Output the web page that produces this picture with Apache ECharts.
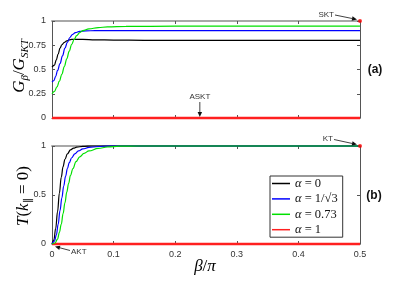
<!DOCTYPE html>
<html><head><meta charset="utf-8">
<script src="https://cdn.jsdelivr.net/npm/echarts@6/dist/echarts.min.js"></script>
<style>html,body{margin:0;padding:0;background:#fff}#c{width:397px;height:284px}</style>
</head><body><div id="c"></div>
<script>
// ---- data ----
const seriesNames = ['α = 0', 'α = 1/√3', 'α = 0.73', 'α = 1'];
const seriesColors = ['#000000', '#0000ff', '#00e000', '#ff2020'];
// panel (a): G_beta / G_SKT  vs beta/pi
const gAlpha0 = [[0,0.525],[0.004,0.545],[0.007,0.60],[0.010,0.66],[0.013,0.72],[0.016,0.755],[0.020,0.78],[0.024,0.795],[0.028,0.805],[0.032,0.81],[0.04,0.811],[0.05,0.81],[0.07,0.806],[0.1,0.803],[0.15,0.801],[0.2,0.80],[0.5,0.80]];
const gAlphaInvSqrt3 = [[0,0.37],[0.003,0.385],[0.006,0.43],[0.009,0.49],[0.013,0.56],[0.017,0.64],[0.021,0.72],[0.025,0.78],[0.029,0.83],[0.033,0.86],[0.038,0.88],[0.045,0.893],[0.055,0.899],[0.07,0.90],[0.5,0.90]];
const gAlpha073 = [[0,0.25],[0.004,0.275],[0.008,0.32],[0.012,0.38],[0.016,0.45],[0.020,0.53],[0.024,0.61],[0.028,0.69],[0.032,0.76],[0.036,0.81],[0.040,0.85],[0.045,0.88],[0.05,0.90],[0.06,0.918],[0.075,0.932],[0.09,0.939],[0.12,0.944],[0.2,0.947],[0.5,0.948]];
const gAlpha1 = [[0,0],[0.1,0],[0.2,0],[0.3,0],[0.4,0],[0.5,0]];
// panel (b): T(k_par = 0) vs beta/pi
const tAlpha0 = [[0,0],[0.003,0.04],[0.006,0.16],[0.009,0.33],[0.012,0.52],[0.015,0.68],[0.018,0.79],[0.021,0.865],[0.025,0.92],[0.03,0.96],[0.035,0.978],[0.04,0.988],[0.05,0.996],[0.065,1],[0.5,1]];
const tAlphaInvSqrt3 = [[0,0],[0.004,0.03],[0.007,0.09],[0.010,0.20],[0.013,0.34],[0.016,0.47],[0.019,0.59],[0.022,0.69],[0.025,0.77],[0.028,0.83],[0.032,0.88],[0.037,0.92],[0.043,0.95],[0.05,0.97],[0.06,0.985],[0.075,0.995],[0.09,1],[0.5,1]];
const tAlpha073 = [[0,0],[0.005,0.01],[0.009,0.05],[0.012,0.12],[0.015,0.2],[0.018,0.31],[0.021,0.42],[0.024,0.53],[0.027,0.62],[0.030,0.70],[0.034,0.77],[0.039,0.84],[0.045,0.89],[0.052,0.925],[0.06,0.95],[0.075,0.975],[0.09,0.99],[0.11,0.998],[0.14,1],[0.5,1]];
const tAlpha1 = [[0,0],[0.1,0],[0.2,0],[0.3,0],[0.4,0],[0.5,0]];
// marked points
const pointSKT = [0.5, 1];
const pointASKT = [0.24, 0];
const pointKT = [0.5, 1];
const pointAKT = [0, 0];
// axis ticks
const xMin = 0, xMax = 0.5, xStep = 0.1;
const yAStep = 0.25, yBStep = 0.5;

const chart = echarts.init(document.getElementById('c'), null, {renderer:'canvas'});
const tickFont = {fontFamily:'Liberation Sans, Arial, sans-serif', fontSize:9, color:'#333'};
const mathFont = 'Liberation Serif, DejaVu Serif, serif';
const axisCol = '#555';

function xAx(grid, pos, labels) {
  return {type:'value', gridIndex:grid, position:pos, min:xMin, max:xMax, interval:xStep,
    axisLine:{show:true, onZero:false, lineStyle:{color: pos==='top' ? '#a8a8a8' : axisCol, width: pos==='top'?2:1}},
    axisTick:{show:true, inside:true, length:3, lineStyle:{color:axisCol}},
    axisLabel:Object.assign({show:labels, margin:6}, tickFont),
    splitLine:{show:false}};
}
function yAx(grid, pos, step, labels) {
  return {type:'value', gridIndex:grid, position:pos, min:0, max:1, interval:step,
    axisLine:{show:true, onZero:false, lineStyle:{color:axisCol}},
    axisTick:{show:true, inside:true, length:3, lineStyle:{color:axisCol}},
    axisLabel:Object.assign({show:labels, margin:6}, tickFont),
    splitLine:{show:false}};
}
const mk = (name, data, i, xi, yi, z) => ({
  name, type:'line', xAxisIndex:xi, yAxisIndex:yi, data, showSymbol:false, smooth:0.4, smoothMonotone:'x',
  lineStyle:{color:seriesColors[i], width: i===3 ? 2.5 : 1.2}, itemStyle:{color:seriesColors[i]},
  clip:false, z, animation:false});

const gSets = [gAlpha0, gAlphaInvSqrt3, gAlpha073, gAlpha1];
const tSets = [tAlpha0, tAlphaInvSqrt3, tAlpha073, tAlpha1];
const series = [];
gSets.forEach((d,i)=>series.push(mk(seriesNames[i], d, i, 0, 0, 2+i)));
tSets.forEach((d,i)=>series.push(mk(seriesNames[i], d, i, 2, 2, 2+(i===3?-1:i))));
series.push({type:'scatter', xAxisIndex:0, yAxisIndex:0, data:[pointSKT], symbolSize:4, itemStyle:{color:'#ff0000'}, clip:false, z:10, silent:true});
series.push({type:'scatter', xAxisIndex:2, yAxisIndex:2, data:[pointKT], symbolSize:4, itemStyle:{color:'#ff0000'}, clip:false, z:10, silent:true});

const subStyle = {fontFamily:mathFont, fontStyle:'italic', fontSize:11, verticalAlign:'bottom', lineHeight:12, color:'#222'};
const mainStyle = {fontFamily:mathFont, fontStyle:'italic', fontSize:17, lineHeight:22, color:'#222'};
const upStyle = {fontFamily:mathFont, fontSize:17, lineHeight:22, color:'#222'};

const option = {
  animation:false,
  backgroundColor:'#fff',
  grid:[{left:52, top:21, width:308, height:97, containLabel:false},
        {left:52, top:146, width:308, height:98, containLabel:false}],
  xAxis:[xAx(0,'bottom',false), xAx(0,'top',false), xAx(1,'bottom',true), xAx(1,'top',false)],
  yAxis:[yAx(0,'left',yAStep,true), yAx(0,'right',yAStep,false), yAx(1,'left',yBStep,true), yAx(1,'right',yBStep,false)],
  legend:{data:seriesNames, orient:'vertical', left:270, top:176, icon:'rect', itemWidth:18, itemHeight:1.5,
    itemGap:2.4, padding:[1,5,1,2], backgroundColor:'#fff', borderColor:'#333', borderWidth:1, selectedMode:false,
    formatter: n => '{i|α}' + n.slice(1),
    textStyle:{fontFamily:mathFont, fontSize:12.5, lineHeight:12.5, color:'#111',
      rich:{i:{fontFamily:mathFont, fontStyle:'italic', fontSize:12.5, lineHeight:12.5, color:'#111'}}}},
  series
};
chart.setOption(option);

// annotations
function arrow(p0, p1, col) {
  const dx = p1[0]-p0[0], dy = p1[1]-p0[1], L = Math.hypot(dx,dy);
  const ux = dx/L, uy = dy/L, hl = 5, hw = 2.2;
  const bx = p1[0]-ux*hl, by = p1[1]-uy*hl;
  return [
    {type:'line', shape:{x1:p0[0], y1:p0[1], x2:bx, y2:by}, style:{stroke:col, lineWidth:0.8}, z:20},
    {type:'polygon', shape:{points:[[p1[0],p1[1]],[bx-uy*hw, by+ux*hw],[bx+uy*hw, by-ux*hw]]}, style:{fill:col}, z:20}
  ];
}
const annFont = {fontFamily:'Liberation Sans, Arial, sans-serif', fontSize:8, fill:'#333'};
function label(txt, x, y, align) {
  return {type:'text', x, y, style:Object.assign({text:txt, align, verticalAlign:'middle'}, annFont), z:20};
}
const pS = chart.convertToPixel({xAxisIndex:0, yAxisIndex:0}, pointSKT);
const pA = chart.convertToPixel({xAxisIndex:0, yAxisIndex:0}, pointASKT);
const pK = chart.convertToPixel({xAxisIndex:2, yAxisIndex:2}, pointKT);
const pAK = chart.convertToPixel({xAxisIndex:2, yAxisIndex:2}, pointAKT);
let g = [];
g.push(label('SKT', pS[0]-26, pS[1]-6, 'right'));
g = g.concat(arrow([pS[0]-25, pS[1]-6], [pS[0]-3, pS[1]-1.5], '#111'));
g.push(label('ASKT', pA[0], pA[1]-21, 'center'));
g = g.concat(arrow([pA[0], pA[1]-16], [pA[0], pA[1]-1], '#111'));
g.push(label('KT', pK[0]-27, pK[1]-7, 'right'));
g = g.concat(arrow([pK[0]-26, pK[1]-6.5], [pK[0]-3, pK[1]-1.5], '#111'));
g.push(label('AKT', pAK[0]+19, pAK[1]+8, 'left'));
g = g.concat(arrow([pAK[0]+18, pAK[1]+6.5], [pAK[0]+3, pAK[1]+2.5], '#111'));
// panel tags
const tagFont = {fontFamily:'Liberation Sans, Arial, sans-serif', fontSize:12, fontWeight:'bold', fill:'#111'};
g.push({type:'text', x:375, y:70, style:Object.assign({text:'(a)', align:'center', verticalAlign:'middle'}, tagFont)});
g.push({type:'text', x:374, y:196, style:Object.assign({text:'(b)', align:'center', verticalAlign:'middle'}, tagFont)});
// axis titles
g.push({type:'text', x:20, y:66, rotation:Math.PI/2,
  style:{text:'{m|G}{s|β}{u|/}{m|G}{s|SKT}', align:'center', verticalAlign:'middle',
    rich:{m:mainStyle, s:subStyle, u:upStyle}}});
g.push({type:'text', x:24, y:196, rotation:Math.PI/2,
  style:{text:'{m|T}{u|(}{m|k}{s|∥}{u| = 0)}', align:'center', verticalAlign:'middle',
    rich:{m:mainStyle, s:Object.assign({}, subStyle, {fontStyle:'normal'}), u:upStyle}}});
g.push({type:'text', x:205, y:267,
  style:{text:'{m|β}{u|/}{m|π}', align:'center', verticalAlign:'middle', rich:{m:mainStyle, u:upStyle}}});
chart.setOption({graphic:g});
</script></body></html>
